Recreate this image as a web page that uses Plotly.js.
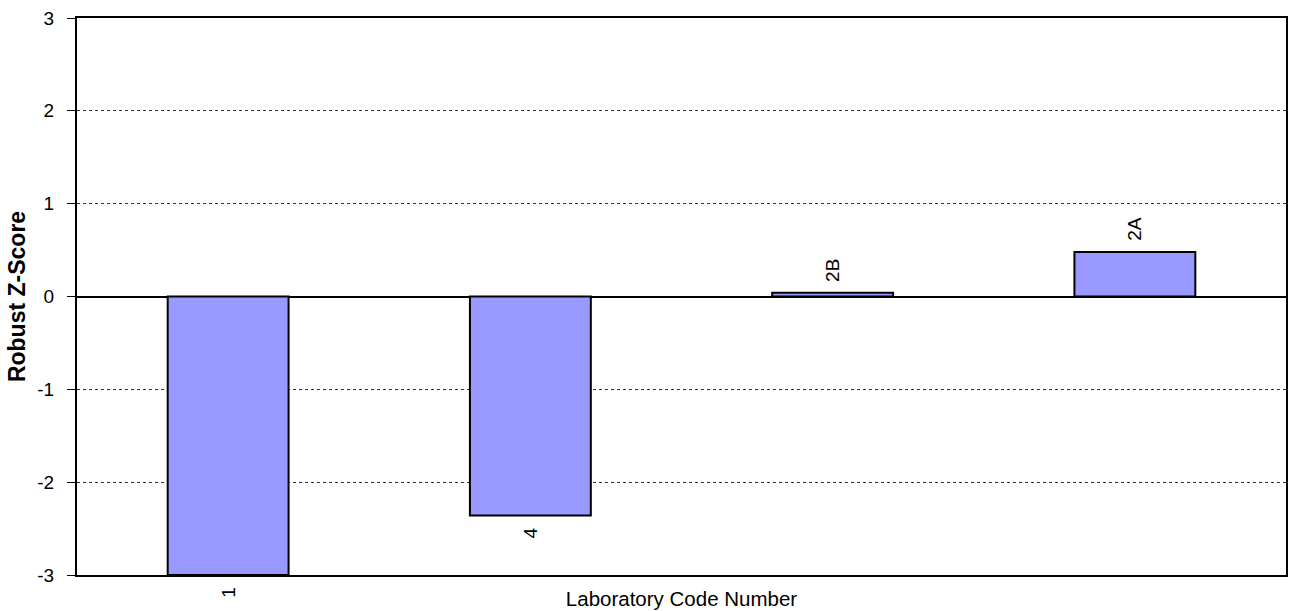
<!DOCTYPE html>
<html>
<head>
<meta charset="utf-8">
<script src="https://cdn.plot.ly/plotly-3.0.1.min.js"></script>
<style>html,body{margin:0;padding:0;background:#fff;}#chart{width:1294px;height:611px;}</style>
</head>
<body>
<div id="chart"></div>
<script>
const labCodes = ['1', '4', '2B', '2A'];
const zScores = [-3.0, -2.36, 0.04, 0.48];
const yTicks = [-3, -2, -1, 0, 1, 2, 3];

const trace = {
  type: 'bar',
  x: labCodes,
  y: zScores,
  width: 0.4,
  marker: {color: '#9999FF', line: {color: '#000000', width: 2}},
  hoverinfo: 'x+y'
};

const annotations = labCodes.map((c, i) => ({
  x: i,
  y: zScores[i],
  xref: 'x', yref: 'y',
  text: c,
  showarrow: false,
  textangle: -90,
  yanchor: zScores[i] >= 0 ? 'bottom' : 'top',
  yshift: zScores[i] >= 0 ? 9 : -10,
  font: {family: 'Liberation Sans, Arial, sans-serif', size: 19, color: '#000'}
}));

const layout = {
  width: 1294, height: 611,
  margin: {l: 77, r: 8, t: 18, b: 36},
  paper_bgcolor: '#ffffff', plot_bgcolor: '#ffffff',
  showlegend: false,
  font: {family: 'Liberation Sans, Arial, sans-serif', color: '#000'},
  xaxis: {
    type: 'category',
    range: [-0.5, 3.5],
    showticklabels: false,
    ticks: '',
    showgrid: false,
    zeroline: false,
    showline: true, linecolor: '#000', linewidth: 2, mirror: true,
    title: {text: 'Laboratory Code Number', font: {size: 20.5, color: '#000'}, standoff: 16},
    automargin: false
  },
  yaxis: {
    range: [-3, 3],
    tickvals: yTicks,
    ticktext: yTicks.map(String),
    ticks: 'outside', ticklen: 8, tickwidth: 1, tickcolor: '#000',
    ticklabelstandoff: 9,
    tickfont: {size: 19, color: '#000'},
    showgrid: true, gridcolor: '#333', griddash: 'dot', gridwidth: 1,
    zeroline: true, zerolinecolor: '#000', zerolinewidth: 2,
    showline: true, linecolor: '#000', linewidth: 2, mirror: true,
    title: {text: '<b>Robust Z-Score</b>', font: {size: 23, color: '#000'}, standoff: 5},
    automargin: false
  },
  annotations: annotations
};

Plotly.newPlot('chart', [trace], layout, {displayModeBar: false, staticPlot: true});
</script>
</body>
</html>
